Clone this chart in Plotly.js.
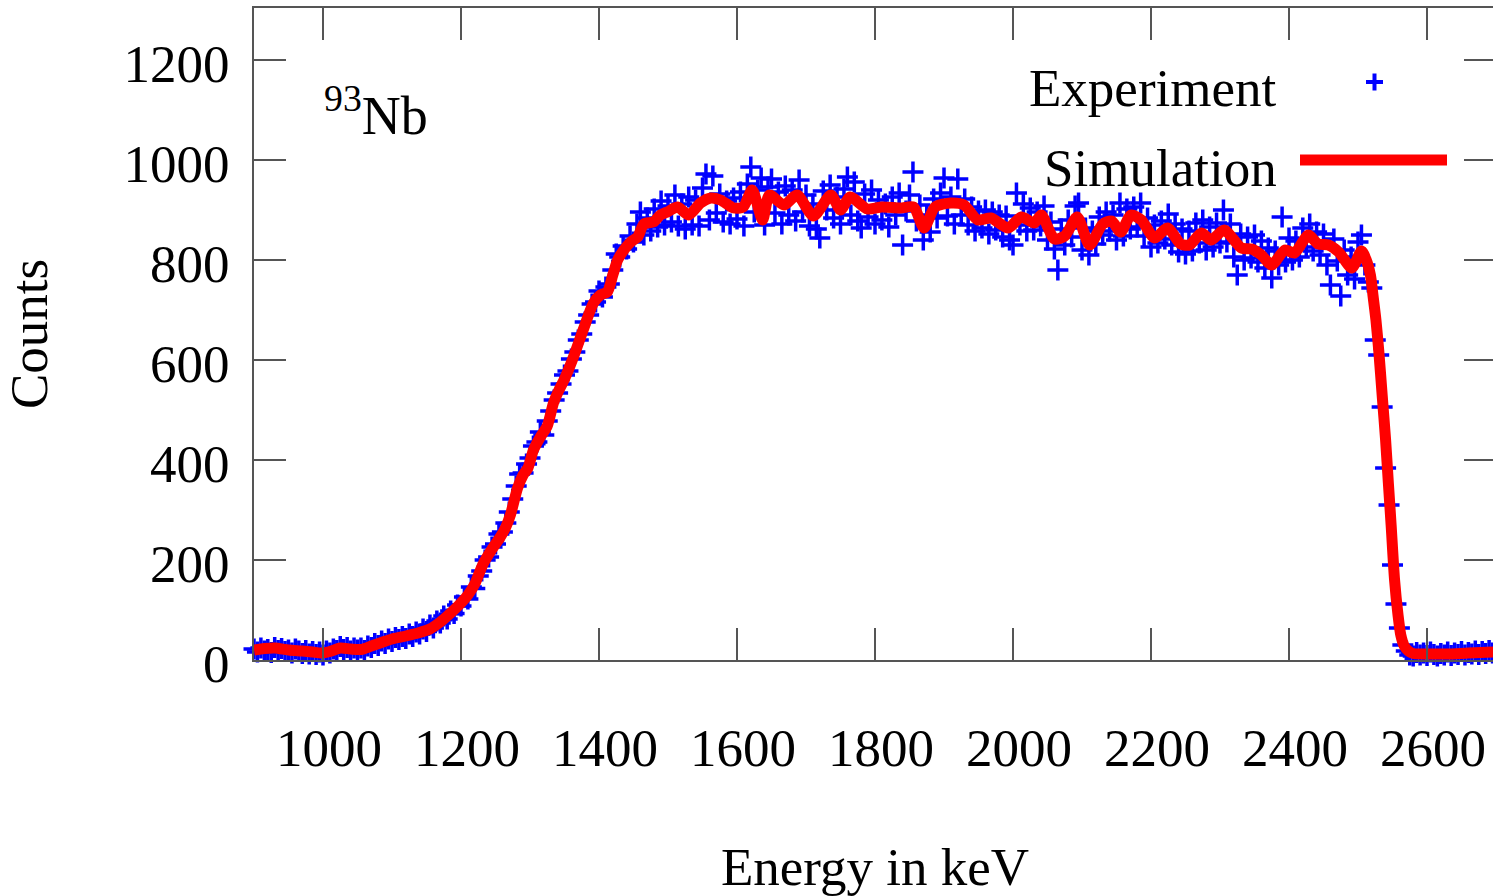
<!DOCTYPE html>
<html>
<head>
<meta charset="utf-8">
<script src="https://cdn.plot.ly/plotly-3.0.1.min.js"></script>
<style>
html,body{margin:0;padding:0;overflow:hidden;background:#fff;}
#chart{width:1496px;height:896px;}
</style>
</head>
<body>
<div id="chart"></div>
<script>
// ---- Data ----
const expStartKeV = 900;   // energy of first experimental channel
const expStepKeV = 5;      // channel width in keV
const expCounts = [
  22,16,24,18,21,15,25,19,23,17,
  20,14,22,18,13,19,12,17,11,16,
  10,18,14,22,19,27,21,25,18,24,
  20,24,19,28,25,33,29,38,33,42,
  37,45,41,47,43,52,47,56,52,62,
  57,70,64,78,74,88,82,98,93,110,
  108,126,122,146,143,168,178,200,206,226,
  232,252,256,274,296,322,348,372,374,392,
  404,428,436,456,450,478,498,520,534,552,
  570,578,602,616,640,652,676,690,712,716,
  738,726,746,752,780,812,806,828,822,848,
  836,872,896,850,884,858,902,866,918,870,
  908,876,930,868,912,862,926,870,920,868,
  944,972,880,968,894,932,876,918,872,924,
  882,936,868,952,986,896,940,964,870,946,
  962,894,936,872,948,890,940,878,960,896,
  930,868,912,862,844,938,900,950,884,926,
  872,942,966,890,956,878,864,932,886,940,
  872,920,880,912,866,926,890,934,830,898,
  930,976,878,910,840,890,856,922,884,934,
  964,888,926,872,962,890,922,870,906,858,
  898,864,900,852,896,860,890,846,888,840,
  830,934,870,912,858,904,860,896,868,908,
  840,876,822,780,862,830,880,846,908,914,
  820,864,810,858,832,886,850,896,858,890,
  840,914,848,902,862,906,866,914,848,884,
  826,870,834,878,842,892,830,872,816,862,
  812,858,818,874,834,880,820,866,826,874,
  834,900,836,872,806,770,852,800,846,804,
  850,796,838,784,824,764,818,790,886,796,
  844,800,838,806,864,826,872,818,856,810,
  852,790,750,842,798,728,820,770,806,762,
  836,850,790,756,744,640,610,506,384,310,
  190,112,64,30,18,10,8,15,10,14,
  9,16,11,8,13,10,16,9,14,11,
  17,10,15,12,18,11,17,13,19,14,
  18
];

const simEnergy = [
  900,915,930,950,970,985,998,1010,1025,1040,
  1055,1070,1085,1100,1120,1140,1155,1170,1185,1200,
  1210,1220,1232,1245,1257,1265,1272,1282,1290,1297,
  1305,1315,1325,1334,1342,1350,1363,1377,1392,1402,
  1412,1420,1427,1436,1446,1456,1465,1479,1489,1499,
  1514,1530,1547,1562,1576,1595,1609,1622,1637,1647,
  1668,1687,1711,1736,1750,1764,1789,1810,1837,1856,
  1871,1887,1910,1929,1949,1968,1993,2012,2031,2041,
  2060,2075,2093,2111,2130,2143,2156,2171,2186,2205,
  2224,2243,2256,2273,2287,2306,2331,2346,2360,2375,
  2394,2408,2428,2442,2457,2472,2491,2505,2512,2518,
  2522,2526,2530,2535,2540,2544,2548,2553,2558,2562,
  2567,2573,2580,2600,2630,2660,2700
];
const simCounts = [
  20,23,24,20,18,16,14,17,24,22,
  21,28,35,42,48,55,62,76,94,114,
  130,152,192,222,246,266,292,344,370,384,
  420,446,468,514,540,562,606,660,714,730,
  736,770,800,820,836,846,872,876,890,896,
  906,890,914,924,920,904,906,940,880,930,
  910,930,888,930,900,926,902,906,904,906,
  864,906,914,910,880,884,864,886,874,890,
  842,848,886,830,872,878,856,890,880,844,
  864,832,830,854,840,860,824,822,810,790,
  820,814,850,832,830,816,784,818,800,770,
  726,680,620,530,440,354,270,160,90,50,
  28,18,13,12,12,14,16
];

const xTickVals = [1000,1200,1400,1600,1800,2000,2200,2400,2600];
const yTickVals = [0,200,400,600,800,1000,1200];
const seriesNames = ['Experiment','Simulation'];

// ---- Drawing ----
const FONT = 'Liberation Serif, "Times New Roman", serif';
const FS = 53;
const AXC = '#555555';
const BLUE = '#0000ff';
const RED = '#ff0000';

const traces = [
  {
    type: 'scatter', mode: 'markers', name: seriesNames[0],
    x0: expStartKeV, dx: expStepKeV, y: expCounts,
    marker: {symbol: 'cross-thin-open', size: 15, color: BLUE, line: {color: BLUE, width: 3.5}},
    cliponaxis: false, hoverinfo: 'x+y'
  },
  {
    type: 'scatter', mode: 'lines', name: seriesNames[1],
    x: simEnergy, y: simCounts,
    line: {color: RED, width: 11, shape: 'spline', smoothing: 0.7}
  }
];

// plot area geometry (pixels)
const L = 254, PW = 1242, T = 8, PH = 652;
const px = v => (v - L) / PW;           // pixel x -> paper
const py = v => (T + PH - v) / PH;      // pixel y -> paper

const layout = {
  width: 1496, height: 896,
  margin: {l: L, r: 0, t: T, b: 896 - T - PH, pad: 0},
  paper_bgcolor: '#ffffff', plot_bgcolor: '#ffffff',
  showlegend: false,
  font: {family: FONT, size: FS, color: '#000'},
  xaxis: {
    range: [900, 2700], tickvals: xTickVals, ticktext: xTickVals.map(String),
    ticks: 'inside', ticklen: 32, tickwidth: 1.5, tickcolor: AXC,
    showline: true, linecolor: AXC, linewidth: 2, mirror: 'ticks',
    showgrid: false, zeroline: false,
    tickfont: {family: FONT, size: FS, color: '#000'},
    ticklabelstandoff: 40, ticklabelshift: 6,
    title: {text: 'Energy in keV', font: {family: FONT, size: FS, color: '#000'}, standoff: 90}
  },
  yaxis: {
    range: [0, 1304], tickvals: yTickVals, ticktext: yTickVals.map(String),
    ticks: 'inside', ticklen: 32, tickwidth: 1.5, tickcolor: AXC,
    showline: true, linecolor: AXC, linewidth: 2, mirror: 'ticks',
    showgrid: false, zeroline: false,
    tickfont: {family: FONT, size: FS, color: '#000'},
    ticklabelstandoff: 12, ticklabelshift: 3,
    title: {text: 'Counts', font: {family: FONT, size: FS, color: '#000'}, standoff: 66}
  },
  annotations: [
    {xref: 'paper', yref: 'paper', x: px(322), y: py(112), xanchor: 'left', yanchor: 'middle',
     text: '<sup>93</sup>Nb', showarrow: false, font: {family: FONT, size: 54, color: '#000'}},
    {xref: 'paper', yref: 'paper', x: px(1279), y: py(88), xanchor: 'right', yanchor: 'middle',
     text: seriesNames[0], showarrow: false, font: {family: FONT, size: FS, color: '#000'}},
    {xref: 'paper', yref: 'paper', x: px(1279), y: py(168), xanchor: 'right', yanchor: 'middle',
     text: seriesNames[1], showarrow: false, font: {family: FONT, size: FS, color: '#000'}}
  ],
  shapes: [
    // legend sample: experiment cross
    {type: 'line', xref: 'paper', yref: 'paper', x0: px(1366), x1: px(1383), y0: py(82), y1: py(82),
     line: {color: BLUE, width: 4}},
    {type: 'line', xref: 'paper', yref: 'paper', x0: px(1374.5), x1: px(1374.5), y0: py(73.5), y1: py(90.5),
     line: {color: BLUE, width: 4}},
    // legend sample: simulation line
    {type: 'line', xref: 'paper', yref: 'paper', x0: px(1300), x1: px(1447), y0: py(160), y1: py(160),
     line: {color: RED, width: 11}}
  ]
};

Plotly.newPlot('chart', traces, layout, {displayModeBar: false, staticPlot: true});
</script>
</body>
</html>
